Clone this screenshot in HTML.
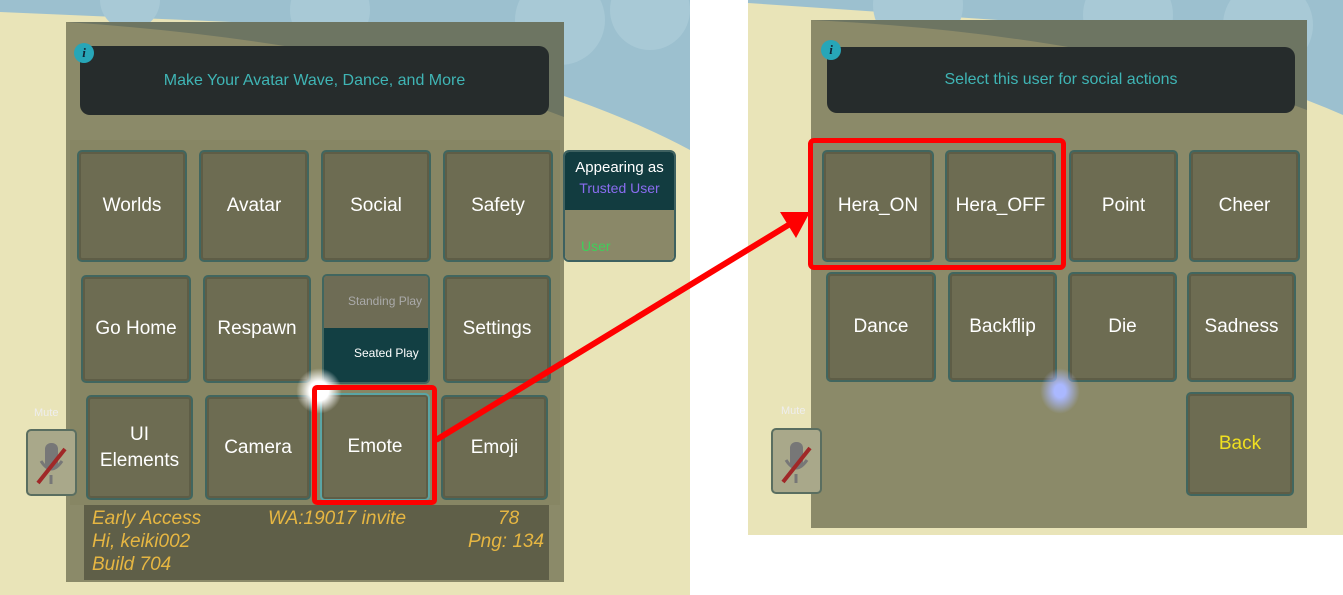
<!DOCTYPE html>
<html><head><meta charset="utf-8"><style>
*{margin:0;padding:0;box-sizing:border-box}
body{width:1343px;height:595px;background:#fff;position:relative;overflow:hidden;font-family:"Liberation Sans",sans-serif}
.abs{position:absolute}
.scene{position:absolute;overflow:hidden;background:#e9e4b8}
.btn{position:absolute;background:#6d6c52;border:2px solid #41665f;border-radius:5px;color:#fff;font-size:19px;display:flex;align-items:center;justify-content:center;text-align:center;line-height:26px;box-shadow:inset 0 0 0 2px #5e5d46}
.hdr{position:absolute;background:#262c2c;border-radius:10px;color:#3fb5b5;font-size:16px;display:flex;align-items:center;justify-content:center}
.info{position:absolute;width:20px;height:20px;border-radius:50%;background:#27a6b8;color:#123;font-size:13px;font-style:italic;font-weight:bold;text-align:center;line-height:20px;font-family:"Liberation Serif",serif}
.mute{position:absolute;background:#a9a88a;border:2px solid #5a6e60;border-radius:5px}
.ml{position:absolute;color:#eee;font-size:11px}
</style></head><body>

<!-- LEFT SCENE -->
<div class="scene" style="left:0;top:0;width:690px;height:595px">
  <svg class="abs" style="left:0;top:0" width="690" height="595">
    <path d="M0 0 H690 V150 Q560 80 300 25 L0 12 Z" fill="#9cc0cf"/>
    <circle cx="130" cy="0" r="30" fill="#a8c9d6"/><circle cx="330" cy="10" r="40" fill="#a8c9d6"/><circle cx="560" cy="20" r="45" fill="#a8c9d6"/><circle cx="650" cy="10" r="40" fill="#a8c9d6"/>
  </svg>
  <div class="abs" style="left:66px;top:22px;width:498px;height:560px;background:#8b8a69"></div>
  <svg class="abs" style="left:66px;top:22px" width="498" height="120"><path d="M0 0 H498 V95 Q300 20 0 0Z" fill="#4a5a5c" opacity=".45"/></svg>
  <div class="hdr" style="left:80px;top:46px;width:469px;height:69px">Make Your Avatar Wave, Dance, and More</div>
  <div class="info" style="left:74px;top:43px">i</div>
  <div class="abs" style="left:70px;top:140px;width:490px;height:365px;background:#878664"></div>
  <div class="btn" style="left:77px;top:150px;width:110px;height:112px">Worlds</div>
  <div class="btn" style="left:199px;top:150px;width:110px;height:112px">Avatar</div>
  <div class="btn" style="left:321px;top:150px;width:110px;height:112px">Social</div>
  <div class="btn" style="left:443px;top:150px;width:110px;height:112px">Safety</div>
  <div class="btn" style="left:81px;top:275px;width:110px;height:108px">Go Home</div>
  <div class="btn" style="left:203px;top:275px;width:108px;height:108px">Respawn</div>
  <div class="abs" style="left:322px;top:274px;width:108px;height:110px;border-radius:5px;overflow:hidden;border:2px solid #41665f">
    <div style="height:52px;background:#6e6c55;color:#aaa;font-size:12px;padding:18px 0 0 24px">Standing Play</div>
    <div style="height:56px;background:#123f43;color:#fff;font-size:12px;padding:18px 0 0 30px">Seated Play</div>
  </div>
  <div class="btn" style="left:443px;top:275px;width:108px;height:108px">Settings</div>
  <div class="btn" style="left:86px;top:395px;width:107px;height:105px">UI<br>Elements</div>
  <div class="btn" style="left:205px;top:395px;width:106px;height:105px">Camera</div>
  <div class="btn" style="left:320px;top:393px;width:110px;height:108px;border-color:#5aa5a5">Emote</div>
  <div class="btn" style="left:441px;top:395px;width:107px;height:105px">Emoji</div>
  <div class="abs" style="left:296px;top:368px;width:46px;height:46px;border-radius:50%;background:radial-gradient(#fff 30%,rgba(255,255,255,0) 70%)"></div>
  <div class="abs" style="left:84px;top:505px;width:465px;height:75px;background:#5f5f48;color:#e6b642;font-style:italic;font-size:19px;line-height:23px;padding:2px 0 0 8px">Early Access<br>Hi, keiki002<br>Build 704
    <div class="abs" style="left:184px;top:2px">WA:19017 invite</div>
    <div class="abs" style="left:414px;top:2px">78</div>
    <div class="abs" style="left:384px;top:25px">Png: 134</div>
  </div>
  <div class="abs" style="left:563px;top:150px;width:113px;height:112px;border:2px solid #3e6160;border-radius:6px;overflow:hidden">
    <div style="height:58px;background:#123c40;color:#fff;text-align:center;font-size:15px;line-height:20px;padding-top:6px">Appearing as<br><span style="color:#8a6cf0;font-size:14px">Trusted User</span></div>
    <div style="height:52px;background:#8a8868;padding:28px 0 0 16px;color:#3fcf5a;font-size:14px">User</div>
  </div>
  <div class="ml" style="left:34px;top:407px">Mute</div>
  <div class="mute" style="left:26px;top:429px;width:51px;height:67px"><svg width="47" height="63"><rect x="17" y="12" width="13" height="26" rx="6" fill="#777"/><path d="M13 30 Q23 46 34 30" stroke="#777" stroke-width="3" fill="none"/><line x1="23" y1="44" x2="23" y2="53" stroke="#777" stroke-width="3"/><line x1="10" y1="52" x2="37" y2="18" stroke="#a02828" stroke-width="4"/></svg></div>
  <div class="abs" style="left:312px;top:385px;width:125px;height:120px;border:5px solid #f00;border-radius:5px"></div>
</div>

<!-- RIGHT SCENE -->
<div class="scene" style="left:748px;top:0;width:595px;height:535px">
  <svg class="abs" style="left:0;top:0" width="595" height="535">
    <path d="M0 0 H595 V115 Q470 60 250 20 L0 3 Z" fill="#9cc0cf"/>
    <circle cx="170" cy="5" r="45" fill="#a8c9d6"/><circle cx="380" cy="15" r="45" fill="#a8c9d6"/><circle cx="520" cy="25" r="45" fill="#a8c9d6"/>
  </svg>
  <div class="abs" style="left:63px;top:20px;width:496px;height:508px;background:#8b8a69"></div>
  <svg class="abs" style="left:63px;top:20px" width="496" height="120"><path d="M0 0 H496 V90 Q300 15 0 0Z" fill="#4a5a5c" opacity=".45"/></svg>
  <div class="hdr" style="left:79px;top:47px;width:468px;height:66px">Select this user for social actions</div>
  <div class="info" style="left:73px;top:40px">i</div>
  <div class="btn" style="left:74px;top:150px;width:112px;height:112px">Hera_ON</div>
  <div class="btn" style="left:197px;top:150px;width:111px;height:112px">Hera_OFF</div>
  <div class="btn" style="left:321px;top:150px;width:109px;height:112px">Point</div>
  <div class="btn" style="left:441px;top:150px;width:111px;height:112px">Cheer</div>
  <div class="btn" style="left:78px;top:272px;width:110px;height:110px">Dance</div>
  <div class="btn" style="left:200px;top:272px;width:109px;height:110px">Backflip</div>
  <div class="btn" style="left:320px;top:272px;width:109px;height:110px">Die</div>
  <div class="btn" style="left:439px;top:272px;width:109px;height:110px">Sadness</div>
  <div class="btn" style="left:438px;top:392px;width:108px;height:104px;color:#f0e020">Back</div>
  <div class="abs" style="left:292px;top:368px;width:40px;height:46px;border-radius:40%;background:radial-gradient(#aab8ff 20%,rgba(140,160,255,0) 70%)"></div>
  <div class="ml" style="left:33px;top:405px">Mute</div>
  <div class="mute" style="left:23px;top:428px;width:51px;height:66px"><svg width="47" height="62"><rect x="17" y="12" width="13" height="26" rx="6" fill="#777"/><path d="M13 30 Q23 46 34 30" stroke="#777" stroke-width="3" fill="none"/><line x1="23" y1="44" x2="23" y2="53" stroke="#777" stroke-width="3"/><line x1="10" y1="52" x2="37" y2="18" stroke="#a02828" stroke-width="4"/></svg></div>
  <div class="abs" style="left:60px;top:138px;width:258px;height:132px;border:5px solid #f00;border-radius:6px"></div>
</div>

<!-- ARROW -->
<svg class="abs" style="left:0;top:0" width="1343" height="595">
  <line x1="436" y1="440" x2="790" y2="224" stroke="#f00" stroke-width="6"/>
  <polygon points="810,212 780,212 796,238" fill="#f00"/>
</svg>
</body></html>
